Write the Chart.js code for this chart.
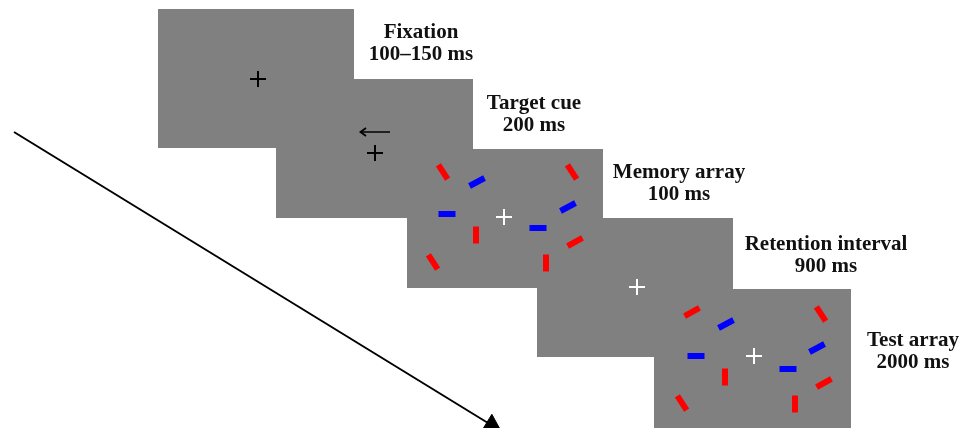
<!DOCTYPE html>
<html><head><meta charset="utf-8">
<script src="https://cdn.jsdelivr.net/npm/chart.js@4"></script>
<style>html,body{margin:0;padding:0;background:#fff}#wrap{width:974px;height:428px;position:relative}</style>
</head><body><div id="wrap"><canvas id="c" width="974" height="428"></canvas></div>
<script>
// Screen panels (top-left corner, width, height) in picture units
const panelX = [158, 276, 407, 537, 654];
const panelY = [9, 79, 149, 218, 289];
const panelW = [196, 197, 196, 196, 197];
const panelH = [139, 139, 139, 139, 150];

// Stage labels
const stageNames = ["Fixation", "Target cue", "Memory array", "Retention interval", "Test array"];
const stageTimes = ["100\u2013150 ms", "200 ms", "100 ms", "900 ms", "2000 ms"];
const labelX = [421, 534, 679, 826, 913];
const labelY = [33, 104, 173, 245, 341];

// Fixation crosses
const blackCrosses = [{x:258,y:79},{x:375,y:153}];
const whiteCrosses = [{x:504,y:217},{x:637,y:287},{x:754,y:356}];

// Memory array bars (x, y, orientation deg)
const memRed = [{x:443,y:172,r:57},{x:433,y:262,r:57},{x:572,y:172,r:57},{x:575,y:242,r:-29},{x:476,y:235,r:90},{x:546,y:263,r:90}];
const memBlue = [{x:477,y:182,r:-28},{x:447,y:214,r:0},{x:568,y:207,r:-28},{x:538,y:228,r:0}];
// Test array bars
const testRed = [{x:692,y:312,r:-29},{x:682,y:403,r:57},{x:821,y:314,r:57},{x:824,y:383,r:-29},{x:725,y:377,r:90},{x:795,y:404,r:90}];
const testBlue = [{x:726,y:324,r:-28},{x:696,y:356,r:0},{x:817,y:348,r:-28},{x:788,y:369,r:0}];

// Cue arrow (left-pointing) and time arrow
const cueShaft = [{x:361,y:132},{x:390,y:132}];
const cueHead = [{x:366,y:128},{x:360.5,y:132},{x:366,y:136}];
const timeLine = [{x:14,y:132},{x:488,y:423}];
const timeHead = [{x:491.6,y:425.3}];

const barDS = (data, color) => ({
  data, showLine:false, pointStyle:'line', pointRadius:8.5, pointHoverRadius:8.5,
  pointBorderColor:color, pointBackgroundColor:color, pointBorderWidth:6, pointHoverBorderWidth:6,
  pointRotation: data.map(d => d.r), clip:false
});
const crossDS = (data, color) => ({
  data, showLine:false, pointStyle:'cross', pointRadius:8, pointHoverRadius:8,
  pointBorderColor:color, pointBorderWidth:2, pointHoverBorderWidth:2, clip:false
});
const lineDS = (data, w) => ({
  data, showLine:true, borderColor:'#000', borderWidth:w, pointRadius:0, pointHoverRadius:0, tension:0, clip:false
});

const panelPlugin = {
  id:'panels',
  beforeDatasetsDraw(chart){
    const {ctx, scales:{x, y}} = chart;
    ctx.save();
    ctx.fillStyle = '#808080';
    for (let i=0;i<panelX.length;i++){
      const x0 = x.getPixelForValue(panelX[i]), x1 = x.getPixelForValue(panelX[i]+panelW[i]);
      const y0 = y.getPixelForValue(panelY[i]), y1 = y.getPixelForValue(panelY[i]+panelH[i]);
      ctx.fillRect(x0, y0, x1-x0, y1-y0);
    }
    ctx.restore();
  },
  afterDraw(chart){
    const {ctx, scales:{x, y}} = chart;
    ctx.save();
    ctx.fillStyle = '#111';
    ctx.font = 'bold 21px "Liberation Serif", "Times New Roman", serif';
    ctx.textAlign = 'center';
    ctx.textBaseline = 'middle';
    for (let i=0;i<stageNames.length;i++){
      ctx.fillText(stageNames[i], x.getPixelForValue(labelX[i]), y.getPixelForValue(labelY[i]));
      ctx.fillText(stageTimes[i], x.getPixelForValue(labelX[i]), y.getPixelForValue(labelY[i]+22));
    }
    ctx.restore();
  }
};

new Chart(document.getElementById('c'), {
  type:'scatter',
  data:{ datasets:[
    lineDS(timeLine, 2),
    { data:timeHead, showLine:false, pointStyle:'triangle', pointRadius:11, pointHoverRadius:11,
      pointBackgroundColor:'#000', pointBorderColor:'#000', pointBorderWidth:1, pointRotation:121.3, clip:false },
    crossDS(blackCrosses, '#000'),
    crossDS(whiteCrosses, '#fff'),
    lineDS(cueShaft, 1.5),
    lineDS(cueHead, 1.8),
    barDS(memRed, '#ff0000'),
    barDS(memBlue, '#0000ff'),
    barDS(testRed, '#ff0000'),
    barDS(testBlue, '#0000ff')
  ]},
  options:{
    responsive:false, animation:false, events:[],
    layout:{padding:0, autoPadding:false},
    plugins:{legend:{display:false}, tooltip:{enabled:false}, title:{display:false}},
    scales:{
      x:{type:'linear', min:0, max:974, display:false},
      y:{type:'linear', min:0, max:428, reverse:true, display:false}
    }
  },
  plugins:[panelPlugin]
});
</script></body></html>
